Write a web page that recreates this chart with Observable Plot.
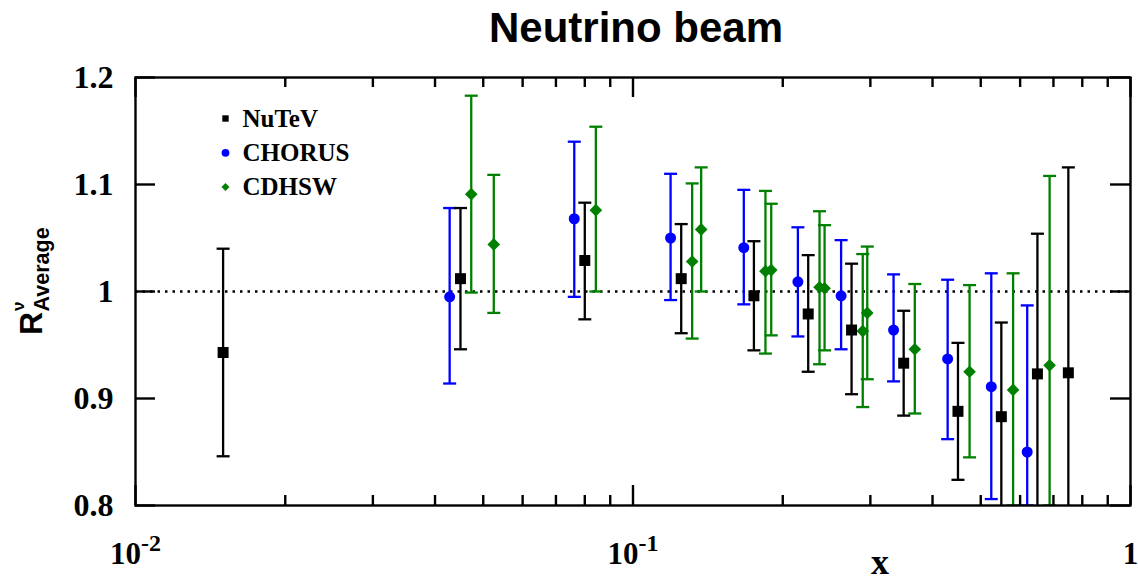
<!DOCTYPE html>
<html><head><meta charset="utf-8">
<script src="https://cdn.jsdelivr.net/npm/d3@7"></script>
<script src="https://cdn.jsdelivr.net/npm/@observablehq/plot@0.6"></script>
<style>
body{margin:0;background:#fff;}
#title{height:50px;margin-left:134px;width:1004px;text-align:center;overflow:visible;
  font-family:"Liberation Sans",Arial,sans-serif;font-weight:bold;font-size:42px;line-height:56px;color:#000;}
#chart svg{display:block;}
</style></head><body>
<div id="title">Neutrino beam</div>
<div id="chart"></div>
<script>
// ---- series meta ----
const seriesNames = ["NuTeV", "CHORUS", "CDHSW"];
const seriesColors = ["#000000", "#0000ff", "#008000"];
const seriesSymbols = ["square", "circle", "diamond2"];

// ---- NuTeV ----
const nutevX  = [0.015, 0.045, 0.080, 0.125, 0.175, 0.225, 0.275, 0.350, 0.450, 0.550, 0.650, 0.750];
const nutevY  = [0.943, 1.012, 1.029, 1.012, 0.996, 0.979, 0.964, 0.933, 0.888, 0.883, 0.923, 0.924];
const nutevHi = [1.040, 1.078, 1.083, 1.063, 1.047, 1.034, 1.026, 0.982, 0.952, 0.971, 1.054, 1.116];
const nutevLo = [0.846, 0.946, 0.974, 0.961, 0.945, 0.925, 0.904, 0.884, 0.824, 0.795, 0.792, 0.732];

// ---- CHORUS ----
const chorusX  = [0.0428, 0.0762, 0.119, 0.167, 0.2145, 0.262, 0.334, 0.429, 0.525, 0.620];
const chorusY  = [0.995, 1.068, 1.050, 1.041, 1.009, 0.996, 0.964, 0.937, 0.911, 0.850];
const chorusHi = [1.078, 1.140, 1.110, 1.095, 1.060, 1.048, 1.016, 1.011, 1.017, 0.987];
const chorusLo = [0.914, 0.995, 0.992, 0.988, 0.958, 0.946, 0.916, 0.862, 0.806, 0.800];

// ---- CDHSW ----
const cdhswX  = [0.0473, 0.0525, 0.0842, 0.1315, 0.1371, 0.1846, 0.1896, 0.2371, 0.2427, 0.2896, 0.2957, 0.3685, 0.4748, 0.5808, 0.6877];
const cdhswY  = [1.091, 1.044, 1.076, 1.028, 1.058, 1.019, 1.020, 1.004, 1.003, 0.963, 0.980, 0.946, 0.925, 0.908, 0.931];
const cdhswHi = [1.183, 1.109, 1.154, 1.101, 1.116, 1.094, 1.082, 1.075, 1.062, 1.035, 1.042, 1.007, 1.006, 1.017, 1.108];
const cdhswLo = [0.999, 0.980, 1.000, 0.956, 1.000, 0.942, 0.959, 0.932, 0.945, 0.892, 0.918, 0.886, 0.845, 0.800, 0.800];

// ---- axes ----
const xDomain = [0.01, 1];
const yDomain = [0.8, 1.2];
const xMajorTicks = [0.01, 0.1, 1];
const xMinorTicks = [0.02,0.03,0.04,0.05,0.06,0.07,0.08,0.09,0.2,0.3,0.4,0.5,0.6,0.7,0.8,0.9];
const yTicks = [0.8, 0.9, 1.0, 1.1, 1.2];
const refLine = [1];

const rows = (name, xs, ys, lo, hi) => xs.map((x, i) => ({series: name, x, y: ys[i], lo: lo[i], hi: hi[i]}));
const seriesData = [
  rows("NuTeV", nutevX, nutevY, nutevLo, nutevHi),
  rows("CHORUS", chorusX, chorusY, chorusLo, chorusHi),
  rows("CDHSW", cdhswX, cdhswY, cdhswLo, cdhswHi)
];

const W = 1138, H = 532, mL = 135, mR = 8, mT = 27, mB = 77;
const FW = W - mL - mR, FH = H - mT - mB;
const serif = "'Liberation Serif', 'Times New Roman', serif";

const capSymbol = {draw(ctx, size) { const w = Math.sqrt(size / Math.PI); ctx.moveTo(-w, 0); ctx.lineTo(w, 0); }};
const markerR = {square: 6.2, circle: 5.5, diamond2: 5.7};
const legendR = {square: 3.6, circle: 3.9, diamond2: 3.6};
const BW = 2.3;

const marks = [];
marks.push(Plot.ruleY(refLine, {y: d => d, stroke: "#000", strokeWidth: 2.4, strokeDasharray: "2.5,5"}));

// order of drawing: CDHSW, CHORUS, NuTeV
[2, 1, 0].forEach(k => {
  const d = seriesData[k], c = seriesColors[k];
  marks.push(Plot.ruleX(d, {x: "x", y1: "lo", y2: "hi", stroke: c, strokeWidth: BW, clip: true}));
  marks.push(Plot.dot(d, {x: "x", y: "hi", symbol: capSymbol, r: 6.5, stroke: c, strokeWidth: BW, fill: "none", clip: true}));
  marks.push(Plot.dot(d, {x: "x", y: "lo", symbol: capSymbol, r: 6.5, stroke: c, strokeWidth: BW, fill: "none", clip: true}));
  marks.push(Plot.dot(d, {x: "x", y: "y", symbol: seriesSymbols[k], r: markerR[seriesSymbols[k]], fill: c, stroke: "none"}));
});

// frame & inward ticks
marks.push(Plot.frame({stroke: "#000", strokeWidth: 2.4}));
marks.push(Plot.tickX(xMinorTicks, {x: d => d, insetTop: FH - 10, stroke: "#000", strokeWidth: 2.4}));
marks.push(Plot.tickX(xMinorTicks, {x: d => d, insetBottom: FH - 10, stroke: "#000", strokeWidth: 2.4}));
marks.push(Plot.tickX(xMajorTicks, {x: d => d, insetTop: FH - 20, stroke: "#000", strokeWidth: 2.4}));
marks.push(Plot.tickX(xMajorTicks, {x: d => d, insetBottom: FH - 20, stroke: "#000", strokeWidth: 2.4}));
marks.push(Plot.tickY(yTicks, {y: d => d, insetRight: FW - 20, stroke: "#000", strokeWidth: 2.4}));
marks.push(Plot.tickY(yTicks, {y: d => d, insetLeft: FW - 20, stroke: "#000", strokeWidth: 2.4}));

// axis labels
marks.push(Plot.axisX({ticks: xMajorTicks, tickSize: 0, tickPadding: 36, label: null,
  tickFormat: d => d === 1 ? "1" : "10^" + Math.round(Math.log10(d)),
  fontSize: 31, fontFamily: serif, fontWeight: "bold", fill: "#000"}));
marks.push(Plot.axisY({ticks: yTicks, tickSize: 0, tickPadding: 22, label: null,
  tickFormat: d => String(Math.round(d * 10) / 10),
  fontSize: 32, fontFamily: serif, fontWeight: "bold", fill: "#000"}));
marks.push(Plot.text(["x"], {frameAnchor: "bottom", lineAnchor: "bottom", dx: 247, dy: 68, fontSize: 36, fontFamily: serif, fontWeight: "bold", fill: "#000"}));

// legend
seriesNames.forEach((name, i) => {
  const dy = 41 + i * 34.3;
  marks.push(Plot.dot([name], {frameAnchor: "top-left", dx: 90, dy, symbol: seriesSymbols[i], r: legendR[seriesSymbols[i]], fill: seriesColors[i], stroke: "none"}));
  marks.push(Plot.text([name], {frameAnchor: "top-left", lineAnchor: "middle", dx: 107, dy, text: d => d, textAnchor: "start", fontSize: 25, fontFamily: serif, fontWeight: "bold", fill: "#000"}));
});

const svg = Plot.plot({
  width: W, height: H,
  marginLeft: mL, marginRight: mR, marginTop: mT, marginBottom: mB,
  style: {fontFamily: serif, background: "#fff", color: "#000", overflow: "visible"},
  x: {type: "log", domain: xDomain, label: null},
  y: {type: "linear", domain: yDomain, label: null},
  marks
});
document.getElementById("chart").appendChild(svg);

// superscripts in x tick labels
d3.select(svg).selectAll('g[aria-label="x-axis tick label"] text').each(function() {
  const t = d3.select(this); const s = t.text();
  if (s.includes("^")) {
    const [b, e] = s.split("^");
    t.text(null);
    t.append("tspan").text(b);
    t.append("tspan").attr("font-size", 24).attr("dy", -13).text(e);
  }
});

// y-axis title: R^nu_Average
const yl = d3.select(svg).append("text")
  .attr("transform", "translate(42,285) rotate(-90)")
  .attr("text-anchor", "start")
  .attr("font-family", "'Liberation Sans', Arial, sans-serif")
  .attr("font-weight", "bold").attr("font-size", 32).attr("fill", "#000");
yl.append("tspan").text("R");
yl.append("tspan").attr("font-size", 17).attr("dx", 1).attr("dy", -18.5).text("ν");
yl.append("tspan").attr("font-size", 21.5).attr("dx", -10).attr("dy", 25).text("Average");
</script>
</body></html>
